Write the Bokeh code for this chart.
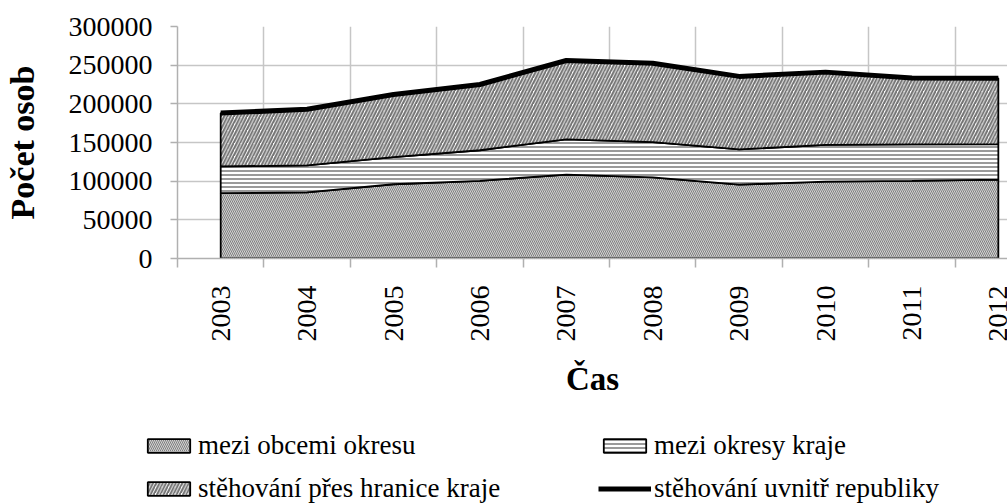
import numpy as np
from math import pi
from bokeh.plotting import figure
from bokeh.layouts import column
from bokeh.models import Range1d, FixedTicker, Legend, LegendItem, NumeralTickFormatter
from bokeh.embed import file_html
from bokeh.resources import INLINE

years = ["2003", "2004", "2005", "2006", "2007", "2008", "2009", "2010", "2011", "2012"]
mezi_obcemi_okresu = [84500, 85500, 96000, 100500, 108500, 105000, 95500, 99500, 100500, 102000]
mezi_okresy_kraje = [34500, 35000, 35000, 39500, 45500, 45500, 45500, 47500, 47000, 46000]
pres_hranice_kraje = [69000, 72500, 81000, 85000, 102000, 102000, 94500, 94000, 86000, 85000]
y_ticks = [0, 50000, 100000, 150000, 200000, 250000, 300000]

labels = ["mezi obcemi okresu", "mezi okresy kraje",
          "stěhování přes hranice kraje", "stěhování uvnitř republiky"]

x = np.arange(len(years))
s1 = np.array(mezi_obcemi_okresu, dtype=float)
s2 = np.array(mezi_okresy_kraje, dtype=float)
s3 = np.array(pres_hranice_kraje, dtype=float)
c1 = s1
c2 = s1 + s2
c3 = s1 + s2 + s3  # stěhování uvnitř republiky (celkem)
zero = np.zeros_like(s1)

FONT = "Liberation Serif"
GRID = "#c6c6c6"
AXIS = "#b0b0b0"

STYLES = [
    dict(fill_color="#d2d2d2", hatch_pattern="\\", hatch_color="#808080",
         hatch_scale=4, hatch_weight=1, line_color="black", line_width=1.8),
    dict(fill_color="white", hatch_pattern="-", hatch_color="#9a9a9a",
         hatch_scale=4, hatch_weight=2, line_color="black", line_width=1.8),
    dict(fill_color="white", hatch_pattern="/", hatch_color="#707070",
         hatch_scale=6.5, hatch_weight=2, line_color="black", line_width=1.8),
]
LINE_STYLE = dict(line_color="black", line_width=5, line_join="round")

def band(top, bottom):
    xs = list(x) + list(x[::-1])
    ys = list(top) + list(bottom[::-1])
    return xs, ys

BANDS = [band(c1, zero), band(c2, c1), band(c3, c2)]

p = figure(width=1007, height=420,
           x_range=Range1d(-0.5, 9.106), y_range=Range1d(0, 300000),
           output_backend="svg", toolbar_location=None,
           min_border_left=177, min_border_right=0,
           min_border_top=26, min_border_bottom=162)
p.outline_line_color = None
p.background_fill_color = "white"

for (xs, ys), st in zip(BANDS, STYLES):
    p.patch(xs, ys, **st)
p.line(x, c3, **LINE_STYLE)

# axes
p.xaxis.ticker = FixedTicker(ticks=list(range(len(years))),
                             minor_ticks=[i - 0.5 for i in range(len(years) + 1)])
p.xaxis.major_label_overrides = {i: y for i, y in enumerate(years)}
p.xaxis.major_tick_line_color = None
p.xaxis.major_tick_out = 9
p.xaxis.major_tick_in = 0
p.xaxis.minor_tick_out = 9
p.xaxis.minor_tick_in = 0
p.xaxis.minor_tick_line_color = AXIS
p.xaxis.minor_tick_line_width = 1.5
p.xaxis.major_label_orientation = pi / 2
p.xaxis.major_label_standoff = 18
p.xaxis.major_label_text_font = FONT
p.xaxis.major_label_text_font_size = "28px"
p.xaxis.major_label_text_color = "black"
p.xaxis.axis_line_color = AXIS
p.xaxis.axis_line_width = 1.5
p.xaxis.axis_label = "Čas"
p.xaxis.axis_label_text_font = FONT
p.xaxis.axis_label_text_font_size = "33px"
p.xaxis.axis_label_text_font_style = "bold"
p.xaxis.axis_label_text_color = "black"
p.xaxis.axis_label_standoff = 16

p.yaxis.ticker = FixedTicker(ticks=y_ticks)
p.yaxis.formatter = NumeralTickFormatter(format="0")
p.yaxis.minor_tick_line_color = None
p.yaxis.major_tick_out = 7
p.yaxis.major_tick_in = 0
p.yaxis.major_tick_line_color = AXIS
p.yaxis.major_tick_line_width = 1.5
p.yaxis.major_label_standoff = 18
p.yaxis.major_label_text_font = FONT
p.yaxis.major_label_text_font_size = "28px"
p.yaxis.major_label_text_color = "black"
p.yaxis.axis_line_color = AXIS
p.yaxis.axis_line_width = 1.5
p.yaxis.axis_label = "Počet osob"
p.yaxis.axis_label_text_font = FONT
p.yaxis.axis_label_text_font_size = "34px"
p.yaxis.axis_label_text_font_style = "bold"
p.yaxis.axis_label_text_color = "black"
p.yaxis.axis_label_standoff = 25

p.xgrid.ticker = FixedTicker(ticks=[i - 0.5 for i in range(len(years) + 1)])
p.xgrid.grid_line_color = GRID
p.xgrid.grid_line_width = 1.5
p.ygrid.grid_line_color = GRID
p.ygrid.grid_line_width = 1.5

# legend strip below the chart (same series, kept out of its view)
lg = figure(width=1007, height=84, x_range=Range1d(-3, -2), y_range=Range1d(0, 1),
            x_axis_type=None, y_axis_type=None,
            output_backend="svg", toolbar_location=None,
            min_border_left=0, min_border_right=0, min_border_top=0, min_border_bottom=0)
lg.frame_align = False
lg.outline_line_color = None
lg.grid.visible = False
lr = [lg.patch(xs, ys, **st) for (xs, ys), st in zip(BANDS, STYLES)]
lr.append(lg.line(x, c3, **LINE_STYLE))

def make_legend(items, loc):
    return Legend(items=items, location=loc, orientation="vertical",
                  glyph_width=53, glyph_height=17, label_height=28, spacing=12,
                  padding=0, margin=0, border_line_color=None, background_fill_alpha=0,
                  label_text_font=FONT, label_text_font_size="27px",
                  label_text_color="black", label_standoff=3)

leg1 = make_legend([LegendItem(label=labels[0], renderers=[lr[0]]),
                    LegendItem(label=labels[2], renderers=[lr[2]])], (142, 0))
leg2 = make_legend([LegendItem(label=labels[1], renderers=[lr[1]]),
                    LegendItem(label=labels[3], renderers=[lr[3]])], (598, 0))
lg.add_layout(leg1, "center")
lg.add_layout(leg2, "center")

layout = column(p, lg, spacing=0)
open("out.html", "w").write(file_html(layout, INLINE))
